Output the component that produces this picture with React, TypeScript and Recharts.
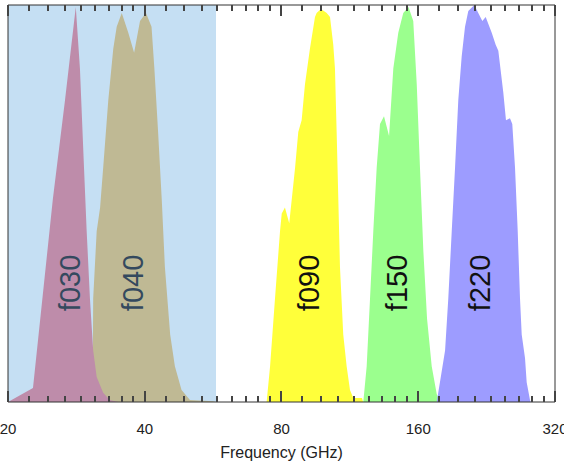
import { ComposedChart, Area, XAxis, YAxis, ReferenceArea, ReferenceDot } from 'recharts'

// frequency (GHz) / normalised transmission for each detector band
const f030Freq = [20.0, 22.7, 25.1, 26.7, 28.2, 28.8, 29.4, 29.8, 30.3, 30.8, 31.35, 32.4, 33.5, 35.0]
const f030Trans = [0.0, 0.035, 0.51, 0.76, 0.995, 0.84, 0.59, 0.43, 0.26, 0.13, 0.063, 0.023, 0.005, 0.0]

const f040Freq = [30.7, 30.8, 31.35, 31.9, 32.4, 33.25, 34.1, 34.7, 35.6, 36.8, 37.9, 39.05, 40.25, 41.4, 42.0, 42.8, 43.6, 44.3, 45.5, 46.6, 48.2, 50.3, 56.5, 57.4]
const f040Trans = [0.0, 0.26, 0.43, 0.49, 0.59, 0.76, 0.89, 0.945, 0.98, 0.93, 0.88, 0.96, 0.98, 0.945, 0.84, 0.68, 0.51, 0.34, 0.17, 0.09, 0.03, 0.005, 0.002, 0.0]

const f090Freq = [74.2, 75.5, 77.4, 79.4, 80.1, 81.4, 83.2, 85.7, 87.1, 88.6, 90.1, 92.4, 94.8, 95.6, 97.7, 100.6, 102.3, 104.0, 104.9, 105.8, 106.7, 107.6, 109.4, 111.3, 113.2, 115.1, 120.3, 121.0]
const f090Trans = [0.0, 0.09, 0.26, 0.43, 0.475, 0.49, 0.45, 0.59, 0.68, 0.71, 0.8, 0.89, 0.97, 0.98, 0.99, 0.98, 0.97, 0.9, 0.84, 0.68, 0.51, 0.34, 0.17, 0.09, 0.03, 0.01, 0.01, 0.0]

const f150Freq = [121.1, 123.2, 125.3, 127.4, 129.6, 131.8, 134.5, 138.0, 141.0, 144.6, 148.3, 152.3, 156.0, 158.8, 161.4, 164.2, 167.3, 171.3, 175.7, 178.6]
const f150Trans = [0.0, 0.09, 0.26, 0.43, 0.59, 0.7, 0.72, 0.67, 0.84, 0.93, 0.98, 0.995, 0.96, 0.8, 0.59, 0.38, 0.21, 0.09, 0.02, 0.0]

const f220Freq = [175.7, 178.6, 183.3, 186.3, 189.6, 192.8, 196.0, 199.4, 202.8, 206.2, 212.6, 216.9, 221.4, 225.2, 232.2, 236.9, 240.1, 246.2, 249.6, 254.7, 257.7, 261.3, 264.9, 268.0, 270.3, 274.9, 277.2, 281.9, 283.0]
const f220Trans = [0.0, 0.05, 0.13, 0.26, 0.43, 0.59, 0.76, 0.87, 0.945, 0.985, 1.0, 0.98, 0.96, 0.97, 0.93, 0.9, 0.885, 0.78, 0.71, 0.715, 0.7, 0.59, 0.43, 0.26, 0.17, 0.11, 0.05, 0.005, 0.0]

const bandNames = ['f040', 'f030', 'f090', 'f150', 'f220']
const labelFreq = [37.6, 27.4, 92.0, 144.0, 218.8]
const labelLevel = 0.3

// low-frequency shaded span
const shadedRange = [20, 57.4]

const majorTicks = [20, 40, 80, 160, 320]
// eight minor ticks evenly spaced inside each octave
const minorTicks = majorTicks
  .slice(0, -1)
  .flatMap((lo) => Array.from({ length: 8 }, (_, k) => lo + (lo * (k + 1)) / 9))
const allTicks = [...majorTicks, ...minorTicks].sort((a, b) => a - b)

const CHART_W = 564
const CHART_H = 464
const MARGIN = { top: 5, right: 9, bottom: 0, left: 8 }
const AXIS_H = 62
const PLOT_H = CHART_H - MARGIN.top - AXIS_H

const toRows = (freq: number[], trans: number[]) => freq.map((f, i) => ({ f, v: trans[i] }))

const bands = [
  { name: bandNames[0], data: toRows(f040Freq, f040Trans), fill: '#bfb994', text: '#34495e' },
  { name: bandNames[1], data: toRows(f030Freq, f030Trans), fill: '#be8caa', text: '#34495e' },
  { name: bandNames[2], data: toRows(f090Freq, f090Trans), fill: '#ffff3a', text: '#111' },
  { name: bandNames[3], data: toRows(f150Freq, f150Trans), fill: '#9bff8e', text: '#111' },
  { name: bandNames[4], data: toRows(f220Freq, f220Trans), fill: '#9d9cff', text: '#111' },
]

// inward marks on the bottom and the top edge of the frame, label under majors
function AxisTick(props: any) {
  const { x, y, payload } = props
  const major = majorTicks.includes(payload.value)
  const len = major ? 11 : 6
  const px = Math.round(x) - 1
  const top = y - PLOT_H
  return (
    <g>
      <rect x={px} y={y - len} width={2} height={len} fill="#444" />
      <rect x={px} y={top} width={2} height={len} fill="#444" />
      {major && (
        <text x={x} y={y + 32} textAnchor="middle" fontSize={15} fill="#222">
          {payload.value}
        </text>
      )}
    </g>
  )
}

export default function App() {
  return (
    <div
      style={{
        position: 'fixed',
        left: 0,
        top: 0,
        background: '#fff',
        fontFamily: '"Liberation Sans", Arial, sans-serif',
      }}
    >
      <ComposedChart width={CHART_W} height={CHART_H} margin={MARGIN}>
        <ReferenceArea
          x1={shadedRange[0]}
          x2={shadedRange[1]}
          y1={0}
          y2={1}
          fill="#c5dff3"
          fillOpacity={1}
          stroke="none"
        />
        <XAxis
          dataKey="f"
          type="number"
          scale="log"
          domain={[20, 320]}
          allowDataOverflow
          ticks={allTicks}
          interval={0}
          tickSize={0}
          tickMargin={0}
          axisLine={false}
          tickLine={false}
          height={AXIS_H}
          tick={(p: any) => <AxisTick {...p} />}
          label={{ value: 'Frequency (GHz)', position: 'insideBottom', offset: 6, fontSize: 16, fill: '#222' }}
        />
        <YAxis hide type="number" domain={[0, 1]} allowDataOverflow />
        {bands.map((b) => (
          <Area
            key={b.name}
            data={b.data}
            dataKey="v"
            type="linear"
            fill={b.fill}
            fillOpacity={1}
            stroke="none"
            isAnimationActive={false}
          />
        ))}
        {bands.map((b, i) => (
          <ReferenceDot
            key={b.name + '-label'}
            x={labelFreq[i]}
            y={labelLevel}
            r={0}
            shape={(p: any) => (
              <text
                x={p.cx}
                y={p.cy}
                transform={`rotate(-90 ${p.cx} ${p.cy})`}
                textAnchor="middle"
                dominantBaseline="central"
                fontSize={29}
                fill={b.text}
              >
                {b.name}
              </text>
            )}
          />
        ))}
        <ReferenceArea x1={20} x2={320} y1={0} y2={1} fill="none" stroke="#333" strokeWidth={1} />
      </ComposedChart>
    </div>
  )
}
